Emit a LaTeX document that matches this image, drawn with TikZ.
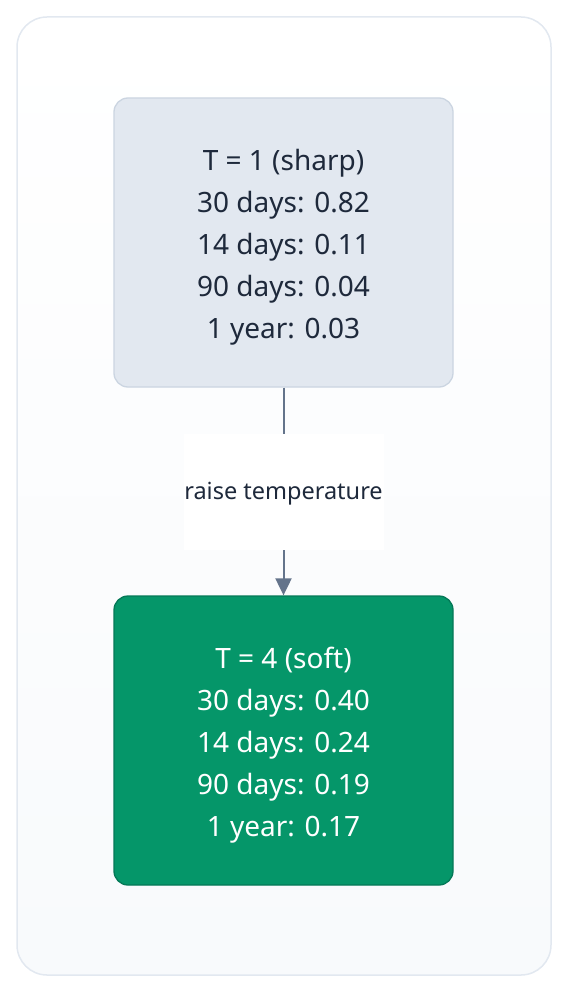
\documentclass[tikz,border=0pt]{standalone}
\usepackage{fontspec}
\setmainfont{Noto Sans}
\usepackage{tikz}
\usetikzlibrary{arrows.meta, positioning, calc}
\definecolor{panelborder}{HTML}{E2E8F0}
\definecolor{paneltop}{HTML}{FFFFFF}
\definecolor{panelbottom}{HTML}{F8FAFC}
\definecolor{sharpfill}{HTML}{E2E8F0}
\definecolor{sharpborder}{HTML}{CBD5E1}
\definecolor{softfill}{HTML}{059669}
\definecolor{softborder}{HTML}{047857}
\definecolor{inktext}{HTML}{1E293B}
\definecolor{edgegray}{HTML}{64748B}

\begin{document}
\begin{tikzpicture}[x=1pt, y=-1pt]
    \tikzset{
        tempbox/.style={rounded corners=14pt, line width=1.3pt, minimum width=339pt,
            minimum height=289pt},
        temptext/.style={align=center, font=\fontsize{28}{42}\selectfont, yshift=-5pt},
        edgelabel/.style={fill=white, font=\fontsize{23.5}{28}\selectfont, text=inktext,
            minimum width=200pt, minimum height=116pt, inner sep=0pt, text depth=2pt}
    }
    \useasboundingbox (0,0) rectangle (568,992);
    % Outer panel
    \draw[panelborder, line width=1.5pt, rounded corners=30pt, top color=paneltop,
        bottom color=panelbottom] (17,17) rectangle (551,975);

    % Temperature boxes
    \node[tempbox, draw=sharpborder, fill=sharpfill] (sharp) at (283.5,242.5) {};
    \node[temptext, text=inktext] (sharptext) at (sharp.center)
        {T = 1 (sharp)\\30 days: 0.82\\14 days: 0.11\\90 days: 0.04\\1 year: 0.03};
    \node[tempbox, draw=softborder, fill=softfill] (soft) at (283.5,740.5) {};
    \node[temptext, text=white] (softtext) at (soft.center)
        {T = 4 (soft)\\30 days: 0.40\\14 days: 0.24\\90 days: 0.19\\1 year: 0.17};

    % Connector with label
    \draw[edgegray, line width=2pt, -{Triangle[length=17pt, width=16pt]}] (sharp) -- (soft)
        node[edgelabel, pos=0.5] (raise) {raise temperature};
\end{tikzpicture}
\end{document}
